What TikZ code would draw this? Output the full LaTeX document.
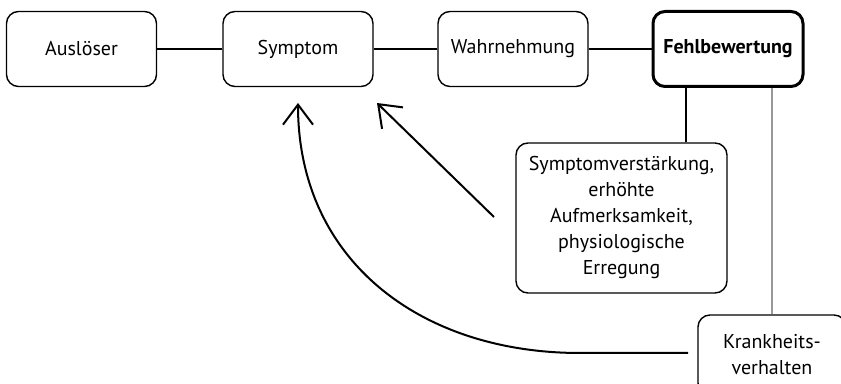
\documentclass[tikz,border=0pt]{standalone}
\usepackage{fontspec}
\setmainfont{PT Sans}
\usetikzlibrary{arrows.meta}
\tikzset{
  box/.style={draw, rounded corners=6pt, minimum width=75pt, minimum height=37.5pt,
    align=center, line width=0.7pt, font=\fontsize{10}{13}\selectfont},
  link/.style={line width=1pt},
  back/.style={line width=1pt, -{Straight Barb[length=10pt,width=15pt]}},
}
\begin{document}
\begin{tikzpicture}[x=0.5pt,y=-0.5pt]
    \useasboundingbox (0,0) rectangle (841,384);
    % the chain along the top
    \node[box] (ausl) at (81.5,49) {Auslöser};
    \node[box] (sym) at (298,49) {Symptom};
    \node[box] (wahr) at (513,49) {Wahrnehmung};
    \node[box, line width=1.5pt, font=\fontsize{10}{13}\selectfont\bfseries] (fehl) at (728,49) {Fehlbewertung};
    \draw[link] (ausl) -- (sym);
    \draw[link] (sym) -- (wahr);
    \draw[link] (wahr) -- (fehl);
    % the two results below
    \node[box, minimum width=105.5pt, minimum height=75pt] (verst) at (621.5,218)
        {Symptomverstärkung,\\erhöhte\\Aufmerksamkeit,\\physiologische\\Erregung};
    \node[box, minimum width=74pt, minimum height=40pt] (krank) at (772,355)
        {Krankheits-\\verhalten};
    \coordinate (fehlL) at (686,86);
    \draw[link] (fehlL) -- (fehlL |- verst.north);
    \draw[line width=1pt, black!40] (krank.north) -- (krank.north |- fehl.south);
    % feedback to the symptom
    \coordinate (tipA) at (377,103);
    \coordinate (tailA) at (494,217);
    \coordinate (tipB) at (298,103);
    \coordinate (tailB) at (688,353);
    \draw[back] (tailA) -- (tipA);
    \draw[back] (tailB) -- (580,353) .. controls (420,353) and (298,260) .. (tipB);
\end{tikzpicture}
\end{document}
